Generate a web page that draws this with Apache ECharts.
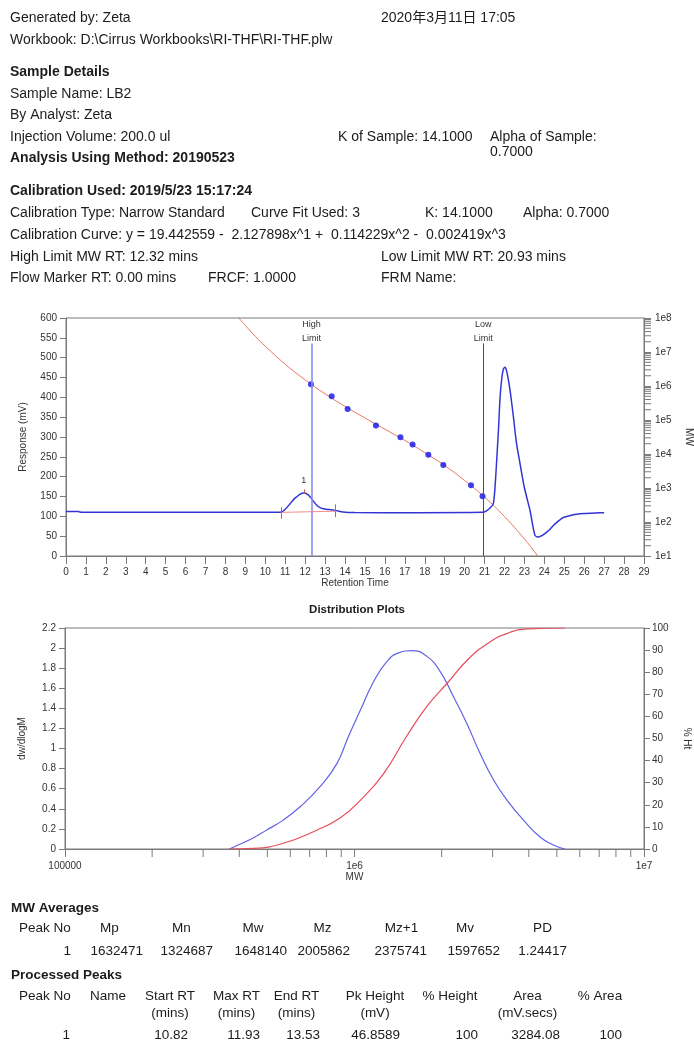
<!DOCTYPE html>
<html>
<head>
<meta charset="utf-8">
<title>LB2 - GPC report</title>
<script src="https://cdn.jsdelivr.net/npm/echarts@6/dist/echarts.min.js"></script>
<style>
  html, body { margin: 0; padding: 0; background: #fff; }
  #report { width: 694px; height: 1042px; }
</style>
</head>
<body>
<div id="report"></div>
<script>
// chromatogram: response (mV) vs retention time (mins)
const rtTime = [0, 0.6, 0.8, 4, 8, 10.5, 10.82, 11.0, 11.25, 11.45, 11.6, 11.75, 11.93, 12.1, 12.25,
  12.4, 12.58, 12.75, 12.91, 13.2, 13.5, 13.9, 14.5, 17, 20.9, 21.1, 21.3, 21.44, 21.52, 21.6,
  21.7, 21.78, 21.87, 21.95, 22.03, 22.1, 22.2, 22.3, 22.45, 22.6, 22.78, 23.0, 23.28, 23.53, 23.7,
  23.9, 24.12, 24.3, 24.45, 24.7, 24.95, 25.3, 25.62, 26.0, 26.4, 26.8, 27.0];
const rtResponse = [112, 112, 110, 110, 110, 110, 111, 118, 132, 144, 150, 156, 159, 156, 149,
  139, 128, 122, 119, 117, 115, 111, 109.5, 109, 110, 114, 122, 132, 170, 233,
  320, 401, 450, 472, 476, 468, 443, 410, 350, 285, 233, 172, 115, 52, 48,
  52, 60, 68, 77, 88, 97, 102, 105, 107, 108, 109, 109];

// calibration curve, log10(MW)
const calRT = [8.6, 9, 9.5, 10, 11, 12, 13, 14, 15, 16, 17, 18, 19, 20, 21, 22, 23, 23.5, 24];
const calLogMW = [8.05, 7.78, 7.46, 7.17, 6.64, 6.18, 5.77, 5.40, 5.06, 4.73, 4.40, 4.04, 3.66, 3.22, 2.73, 2.16, 1.50, 1.13, 0.73];

// calibration standards
const stdRT = [12.29, 13.33, 14.13, 15.55, 16.78, 17.39, 18.18, 18.93, 20.32, 20.9];
const stdLogMW = [6.05, 5.70, 5.32, 4.84, 4.49, 4.28, 3.98, 3.68, 3.08, 2.76];

const highLimitRT = 12.32;
const lowLimitRT = 20.93;
const peakStartRT = 10.82, peakMaxRT = 11.93, peakEndRT = 13.53;

// distribution plots, x = log10(MW)
const distLogMW = [5.568, 5.598, 5.65, 5.697, 5.75, 5.812, 5.881, 5.939, 5.979, 6.02, 6.065, 6.11, 6.15, 6.198,
  6.249, 6.295, 6.341, 6.388, 6.434, 6.48, 6.526, 6.583, 6.641, 6.687, 6.727];
const distDw = [0, 0.04, 0.11, 0.19, 0.28, 0.42, 0.62, 0.85, 1.12, 1.38, 1.66, 1.86, 1.95, 1.974,
  1.92, 1.77, 1.52, 1.25, 0.95, 0.69, 0.49, 0.29, 0.12, 0.04, 0];
const cumLogMW = [5.568, 5.651, 5.754, 5.869, 5.95, 6.02, 6.10, 6.18, 6.25, 6.32, 6.39, 6.46, 6.53, 6.60, 6.727];
const cumPct = [0, 0.3, 2.6, 8.5, 14, 22, 34, 51, 64.5, 75, 85.5, 93, 97.7, 99.6, 100];

const mwTickLabels = { 5: '100000', 6: '1e6', 7: '1e7' };

// tables
const mwAvgHeaders = ['Peak No', 'Mp', 'Mn', 'Mw', 'Mz', 'Mz+1', 'Mv', 'PD'];
const mwAvgValues = ['1', '1632471', '1324687', '1648140', '2005862', '2375741', '1597652', '1.24417'];
const peakHeaders = ['Peak No', 'Name', 'Start RT', 'Max RT', 'End RT', 'Pk Height', '% Height', 'Area', '% Area'];
const peakUnits = ['', '', '(mins)', '(mins)', '(mins)', '(mV)', '', '(mV.secs)', ''];
const peakValues = ['1', '', '10.82', '11.93', '13.53', '46.8589', '100', '3284.08', '100'];

const FONT = '"Liberation Sans", Arial, "Noto Sans CJK SC", sans-serif';
const ink = '#1c1c1c';
const axisGray = '#7a7a7a';
const rtMax = 29;

// log minor ticks (2..9 in each decade)
const mwMinorTicks = [], distMinorTicks = [];
for (let d = 1; d < 8; d++) for (let k = 2; k < 10; k++) mwMinorTicks.push(d + Math.log10(k));
for (let d = 5; d < 7; d++) for (let k = 2; k < 10; k++) distMinorTicks.push(d + Math.log10(k));

function txt(text, x, y, opts) {
  opts = opts || {};
  return {
    type: 'text', x: x, y: y, silent: true,
    style: {
      text: text, fill: ink,
      font: (opts.bold ? 'bold ' : '') + (opts.size || 13.5) + 'px ' + FONT,
      textAlign: opts.align || 'left', align: opts.align || 'left',
      textVerticalAlign: 'middle', verticalAlign: 'middle'
    }
  };
}

const headerLines = [
  ['Generated by: Zeta', 10, 18], ['2020年3月11日 17:05', 381, 18],
  ['Workbook: D:\\Cirrus Workbooks\\RI-THF\\RI-THF.plw', 10, 40],
  ['Sample Details', 10, 72.5, true],
  ['Sample Name: LB2', 10, 94],
  ['By Analyst: Zeta', 10, 115.5],
  ['Injection Volume: 200.0 ul', 10, 137.5], ['K of Sample: 14.1000', 338, 137.5],
  ['Alpha of Sample:', 490, 137.5], ['0.7000', 490, 152.5],
  ['Analysis Using Method: 20190523', 10, 158.5, true],
  ['Calibration Used: 2019/5/23 15:17:24', 10, 191.5, true],
  ['Calibration Type: Narrow Standard', 10, 213.5], ['Curve Fit Used: 3', 251, 213.5],
  ['K: 14.1000', 425, 213.5], ['Alpha: 0.7000', 523, 213.5],
  ['Calibration Curve: y = 19.442559 -  2.127898x^1 +  0.114229x^2 -  0.002419x^3', 10, 235],
  ['High Limit MW RT: 12.32 mins', 10, 257.5], ['Low Limit MW RT: 20.93 mins', 381, 257.5],
  ['Flow Marker RT: 0.00 mins', 10, 278.5], ['FRCF: 1.0000', 208, 278.5], ['FRM Name:', 381, 278.5]
];

const graphics = headerLines.map(l => txt(l[0], l[1], l[2], { bold: l[3], size: 14 }));
graphics.push(txt('Distribution Plots', 357, 610, { bold: true, size: 11.5, align: 'center' }));

// MW averages table
graphics.push(txt('MW Averages', 11, 908, { bold: true }));
const mwHeadX = [19, 109.5, 181.5, 253, 322.5, 401.5, 465, 542.5];
const mwValRight = [71, 143, 213, 287, 350, 427, 500, 567];
mwAvgHeaders.forEach((h, i) => graphics.push(txt(h, mwHeadX[i], 928.5, { align: i ? 'center' : 'left' })));
mwAvgValues.forEach((v, i) => graphics.push(txt(v, mwValRight[i], 951, { align: 'right' })));

// processed peaks table
graphics.push(txt('Processed Peaks', 11, 975.5, { bold: true }));
const pkHeadX = [19, 90, 170, 236.5, 296.5, 375, 450, 527.5, 600];
const pkValRight = [70, 0, 188, 260, 320, 400, 478, 560, 622];
peakHeaders.forEach((h, i) => graphics.push(txt(h, pkHeadX[i], 996.5, { align: i < 2 ? 'left' : 'center' })));
peakUnits.forEach((u, i) => { if (u) graphics.push(txt(u, pkHeadX[i], 1013, { align: 'center' })); });
peakValues.forEach((v, i) => { if (v) graphics.push(txt(v, pkValRight[i], 1035, { align: 'right' })); });

const tickLabel = { color: '#333', fontSize: 10, fontFamily: FONT };
const axisName = { color: '#333', fontSize: 10, fontFamily: FONT };
const line = { show: true, onZero: false, lineStyle: { color: axisGray, width: 1 } };
const tick = (len) => ({ show: true, length: len, lineStyle: { color: axisGray } });

function minorTickSeries(xi, yi, data, horizontal) {
  return {
    type: 'custom', xAxisIndex: xi, yAxisIndex: yi, silent: true, clip: false, z: 1,
    data: data,
    renderItem: function (params, api) {
      const p = api.coord([api.value(0), api.value(1)]);
      const shape = horizontal
        ? { x1: p[0], y1: p[1], x2: p[0] + 7, y2: p[1] }
        : { x1: p[0], y1: p[1], x2: p[0], y2: p[1] + 8 };
      return { type: 'line', shape: shape, style: { stroke: axisGray, lineWidth: 1 } };
    }
  };
}

const limitTop = 536;
const limitLabel = { show: true, position: 'end', distance: -2, fontSize: 9, lineHeight: 14, color: '#333', fontFamily: FONT };
const peakMark = { color: '#b46464', width: 1, type: 'solid' };

const option = {
  animation: false,
  backgroundColor: '#fff',
  textStyle: { fontFamily: FONT },
  graphic: graphics,
  grid: [
    { left: 66, top: 318, width: 578, height: 238, show: true, borderColor: axisGray, borderWidth: 1,
      containLabel: false, outerBoundsMode: 'none' },
    { left: 65, top: 628, width: 579, height: 221, show: true, borderColor: axisGray, borderWidth: 1,
      containLabel: false, outerBoundsMode: 'none' }
  ],
  xAxis: [
    {
      gridIndex: 0, type: 'value', min: 0, max: rtMax, interval: 1,
      axisLine: line, axisTick: tick(8), splitLine: { show: false },
      axisLabel: Object.assign({ margin: 11 }, tickLabel),
      name: 'Retention Time', nameLocation: 'middle', nameGap: 22, nameTextStyle: axisName
    },
    {
      gridIndex: 1, type: 'value', min: 5, max: 7, interval: 1,
      axisLine: line, axisTick: tick(8), splitLine: { show: false },
      axisLabel: Object.assign({ margin: 12, formatter: v => mwTickLabels[v] || '' }, tickLabel),
      name: 'MW', nameLocation: 'middle', nameGap: 22, nameTextStyle: axisName
    }
  ],
  yAxis: [
    {
      gridIndex: 0, type: 'value', position: 'left', min: 0, max: 600, interval: 50,
      axisLine: line, axisTick: tick(6), splitLine: { show: false },
      axisLabel: Object.assign({ margin: 9 }, tickLabel),
      name: 'Response (mV)', nameLocation: 'middle', nameGap: 38, nameRotate: 90, nameTextStyle: axisName
    },
    {
      gridIndex: 0, type: 'value', position: 'right', min: 1, max: 8, interval: 1,
      axisLine: line, axisTick: tick(7), splitLine: { show: false },
      axisLabel: Object.assign({ margin: 11, formatter: v => '1e' + v }, tickLabel),
      name: 'MW', nameLocation: 'middle', nameGap: 40, nameRotate: -90, nameTextStyle: axisName
    },
    {
      gridIndex: 1, type: 'value', position: 'left', min: 0, max: 2.2, interval: 0.2,
      axisLine: line, axisTick: tick(6), splitLine: { show: false },
      axisLabel: Object.assign({ margin: 9 }, tickLabel),
      name: 'dw/dlogM', nameLocation: 'middle', nameGap: 38, nameRotate: 90, nameTextStyle: axisName
    },
    {
      gridIndex: 1, type: 'value', position: 'right', min: 0, max: 100, interval: 10,
      axisLine: line, axisTick: tick(6), splitLine: { show: false },
      axisLabel: Object.assign({ margin: 8 }, tickLabel),
      name: '% Ht', nameLocation: 'middle', nameGap: 38, nameRotate: -90, nameTextStyle: axisName
    }
  ],
  series: [
    {
      name: 'Calibration', type: 'line', xAxisIndex: 0, yAxisIndex: 1, smooth: true, symbol: 'none',
      lineStyle: { color: '#e8735f', width: 1 },
      data: calRT.map((x, i) => [x, calLogMW[i]])
    },
    {
      name: 'Standards', type: 'scatter', xAxisIndex: 0, yAxisIndex: 1, symbolSize: 6,
      itemStyle: { color: '#1212e6' }, z: 4,
      data: stdRT.map((x, i) => [x, stdLogMW[i]])
    },
    {
      name: 'Response', type: 'line', xAxisIndex: 0, yAxisIndex: 0, smooth: 0.25, symbol: 'none',
      lineStyle: { color: '#3434d6', width: 1.5 }, z: 3,
      data: rtTime.map((x, i) => [x, rtResponse[i]]),
      markLine: {
        silent: true, symbol: ['none', 'none'], animation: false,
        label: { show: false },
        data: [
          [{ coord: [highLimitRT, 0], lineStyle: { color: '#8c8cf2', width: 1.6, type: 'solid' },
             label: Object.assign({ formatter: 'High\nLimit' }, limitLabel) },
           { coord: [highLimitRT, limitTop] }],
          [{ coord: [lowLimitRT, 0], lineStyle: { color: '#3a3acc', width: 1, type: 'solid' },
             label: Object.assign({ formatter: 'Low\nLimit' }, limitLabel) },
           { coord: [lowLimitRT, limitTop] }],
          [{ coord: [peakStartRT, 110], lineStyle: { color: '#f08c8c', width: 1, type: 'solid' } },
           { coord: [peakEndRT, 113] }],
          [{ coord: [peakStartRT, 94], lineStyle: peakMark }, { coord: [peakStartRT, 123] }],
          [{ coord: [peakEndRT, 98], lineStyle: peakMark }, { coord: [peakEndRT, 130] }],
          [{ coord: [peakMaxRT, 157], lineStyle: peakMark,
             label: { show: true, position: 'end', distance: 4, formatter: '1', fontSize: 9, color: '#333', fontFamily: FONT } },
           { coord: [peakMaxRT, 168] }]
        ]
      }
    },
    minorTickSeries(0, 1, mwMinorTicks.map(v => [rtMax, v]), true),
    {
      name: 'dw/dlogM', type: 'line', xAxisIndex: 1, yAxisIndex: 2, smooth: true, symbol: 'none',
      lineStyle: { color: '#6262e6', width: 1.2 },
      data: distLogMW.map((x, i) => [x, distDw[i]])
    },
    {
      name: '% Ht', type: 'line', xAxisIndex: 1, yAxisIndex: 3, smooth: true, symbol: 'none',
      lineStyle: { color: '#e84c5a', width: 1.2 },
      data: cumLogMW.map((x, i) => [x, cumPct[i]])
    },
    minorTickSeries(1, 2, distMinorTicks.map(v => [v, 0]), false)
  ]
};

const chart = echarts.init(document.getElementById('report'), null, { renderer: 'canvas' });
chart.setOption(option);
</script>
</body>
</html>
